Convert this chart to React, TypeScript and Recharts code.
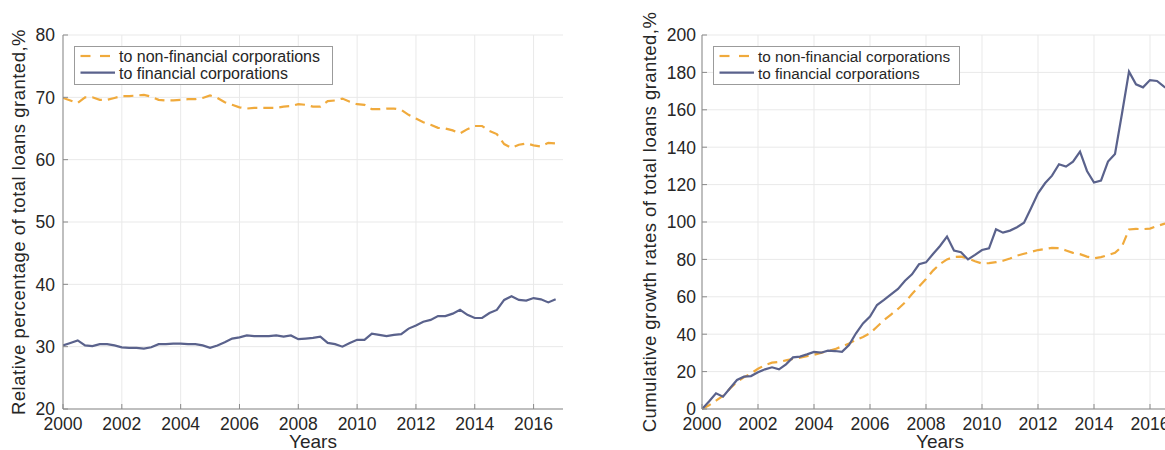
import React from "react";
import { LineChart, Line, XAxis, YAxis, CartesianGrid, Legend } from "recharts";

// quarterly observations, 2000Q1 .. 2016Q4
const quarters = [
  2000, 2000.25, 2000.5, 2000.75, 2001, 2001.25, 2001.5, 2001.75,
  2002, 2002.25, 2002.5, 2002.75, 2003, 2003.25, 2003.5, 2003.75,
  2004, 2004.25, 2004.5, 2004.75, 2005, 2005.25, 2005.5, 2005.75,
  2006, 2006.25, 2006.5, 2006.75, 2007, 2007.25, 2007.5, 2007.75,
  2008, 2008.25, 2008.5, 2008.75, 2009, 2009.25, 2009.5, 2009.75,
  2010, 2010.25, 2010.5, 2010.75, 2011, 2011.25, 2011.5, 2011.75,
  2012, 2012.25, 2012.5, 2012.75, 2013, 2013.25, 2013.5, 2013.75,
  2014, 2014.25, 2014.5, 2014.75, 2015, 2015.25, 2015.5, 2015.75,
  2016, 2016.25, 2016.5, 2016.75,
];

// relative share of total loans, %
const shareNonFin = [
  69.9, 69.5, 69.1, 70.0, 70.0, 69.6, 69.6, 69.9,
  70.2, 70.2, 70.3, 70.4, 70.1, 69.6, 69.5, 69.5,
  69.6, 69.7, 69.7, 69.9, 70.3, 69.9, 69.2, 68.8,
  68.4, 68.2, 68.3, 68.3, 68.3, 68.3, 68.5, 68.6,
  68.9, 68.8, 68.5, 68.5, 69.4, 69.5, 69.8, 69.3,
  68.9, 68.8, 68.1, 68.1, 68.2, 68.2, 68.0, 67.2,
  66.6, 66.0, 65.6, 65.1, 65.0, 64.7, 64.2, 64.9,
  65.4, 65.4, 64.6, 64.1, 62.5, 61.9, 62.4, 62.6,
  62.3, 62.1, 62.7, 62.6,
];
const shareFin = [
  30.2, 30.6, 31.0, 30.2, 30.1, 30.4, 30.4, 30.2,
  29.9, 29.8, 29.8, 29.7, 29.9, 30.4, 30.4, 30.5,
  30.5, 30.4, 30.4, 30.2, 29.8, 30.2, 30.7, 31.3,
  31.5, 31.8, 31.7, 31.7, 31.7, 31.8, 31.6, 31.8,
  31.2, 31.3, 31.4, 31.6, 30.6, 30.4, 30.0, 30.6,
  31.1, 31.1, 32.1, 31.9, 31.7, 31.9, 32.0, 32.9,
  33.4, 34.0, 34.3, 34.9, 34.9, 35.3, 35.9, 35.1,
  34.6, 34.6, 35.4, 35.9, 37.5, 38.1, 37.5, 37.4,
  37.8, 37.6, 37.1, 37.6,
];

// cumulative growth rates of total loans, %
const cumNonFin = [
  0, 2, 4.5, 7, 11, 14.5, 17, 19,
  21.5, 23.5, 24.8, 25.2, 26, 26.8, 27.5, 28.3,
  29, 30, 31, 32, 33.5, 35, 37, 38.5,
  40.5, 44, 47.5, 50.5, 53.5, 57, 61.5, 65.5,
  69.5, 74, 77.5, 80, 81.3, 81.5, 80.5, 79,
  77.8, 78, 78.5, 79.3, 80.5, 82, 83, 84,
  85, 85.5, 86.2, 86, 84.8, 83.5, 82.8, 81.5,
  80.6, 81.2, 82.3, 83.5, 87, 96, 96.3, 96.2,
  96.5, 97.8, 99, 100,
];
const cumFin = [
  0, 4, 8.4, 6.6, 11.1, 15.5, 17.3, 17.6,
  19.6, 21.2, 22.3, 21.2, 23.9, 27.6, 28.0, 29.2,
  30.5, 30.1, 31.2, 31.0, 30.6, 34.2, 40.5, 45.8,
  49.4, 55.6, 58.3, 61.3, 64.2, 68.6, 72.0, 77.4,
  78.4, 82.9, 87.2, 92.2, 84.7, 83.8, 80.0, 82.4,
  85.0, 85.9, 96.1, 94.3, 95.4, 97.2, 99.6, 107.3,
  115.3, 120.7, 124.8, 130.9, 129.6, 132.3, 137.6, 127.3,
  121.1, 122.1, 132.3, 136.4, 158, 180.4, 173.6, 172.0,
  175.9, 175.4, 172.4, 170,
];

const yearTicks = [2000, 2002, 2004, 2006, 2008, 2010, 2012, 2014, 2016];
const shareTicks = [20, 30, 40, 50, 60, 70, 80];
const cumTicks = [0, 20, 40, 60, 80, 100, 120, 140, 160, 180, 200];

const seriesNames = ["to non-financial corporations", "to financial corporations"];

const ORANGE = "#F0AA3C";
const NAVY = "#5A628C";
const AXIS = "#8a8a8a";
const GRID = "#e9e9e9";
const INK = "#262626";
const FONT = '"Liberation Sans", Arial, Helvetica, sans-serif';

const shareData = quarters.map((q, i) => ({ q, nonFin: shareNonFin[i], fin: shareFin[i] }));
const cumData = quarters.map((q, i) => ({ q, nonFin: cumNonFin[i], fin: cumFin[i] }));

function XTick(props: any) {
  const { x, y, payload } = props;
  return (
    <g>
      <line x1={x} x2={x} y1={y} y2={y - 5} stroke={AXIS} />
      <text x={x} y={y + 21} textAnchor="middle" fontSize={17.5} fill={INK} fontFamily={FONT}>
        {payload.value}
      </text>
    </g>
  );
}

function YTick(props: any) {
  const { x, y, payload, gap } = props;
  return (
    <g>
      <line x1={x} x2={x + 5} y1={y} y2={y} stroke={AXIS} />
      <text x={x - (gap ?? 8)} y={y + 6.3} textAnchor="end" fontSize={17.5} fill={INK} fontFamily={FONT}>
        {payload.value}
      </text>
    </g>
  );
}

function YTitle({ text, px, py, spacing }: { text: string; px: number; py: number; spacing: number }) {
  return (
    <text
      x={px}
      y={py}
      transform={`rotate(-90 ${px} ${py})`}
      textAnchor="middle"
      fontSize={18.5}
      letterSpacing={spacing}
      fill={INK}
      fontFamily={FONT}
    >
      {text}
    </text>
  );
}

function XTitle({ px, py }: { px: number; py: number }) {
  return (
    <text x={px} y={py} textAnchor="middle" fontSize={19} fill={INK} fontFamily={FONT}>
      Years
    </text>
  );
}

function LegendBox({ w, fontSize }: { w: number; fontSize: number }) {
  return (
    <svg width={w + 1} height={39} style={{ display: "block" }}>
      <rect x={0.5} y={0.5} width={w} height={38} fill="#fff" stroke="#9b9b9b" />
      <line x1={6.5} x2={16.5} y1={10} y2={10} stroke={ORANGE} strokeWidth={2.2} />
      <line x1={26} x2={36} y1={10} y2={10} stroke={ORANGE} strokeWidth={2.2} />
      <line x1={6.5} x2={41} y1={26.7} y2={26.7} stroke={NAVY} strokeWidth={2.2} />
      <text x={45} y={15.8} fontSize={fontSize} fill={INK} fontFamily={FONT}>
        {seriesNames[0]}
      </text>
      <text x={45} y={32.5} fontSize={fontSize} fill={INK} fontFamily={FONT}>
        {seriesNames[1]}
      </text>
    </svg>
  );
}

function Panel({
  data,
  width,
  yWidth,
  right,
  yDomain,
  yTicks,
  yTitle,
  titleX,
  spacing,
  legendLeft,
  legendW,
  legendFont,
  tickGap,
}: any) {
  const plotCenter = yWidth + (width - right - yWidth) / 2;
  return (
    <LineChart width={width} height={450} data={data} margin={{ top: 35, right, bottom: 0, left: 0 }}>
      <CartesianGrid stroke={GRID} strokeWidth={1} syncWithTicks />
      <XAxis
        dataKey="q"
        type="number"
        domain={[2000, 2017]}
        ticks={yearTicks}
        allowDataOverflow
        height={41}
        stroke={AXIS}
        tickLine={false}
        tickSize={0}
        tickMargin={0}
        tick={<XTick />}
        label={<XTitle px={plotCenter} py={448} />}
      />
      <YAxis
        type="number"
        domain={yDomain}
        ticks={yTicks}
        width={yWidth}
        stroke={AXIS}
        tickLine={false}
        tickSize={0}
        tickMargin={0}
        tick={<YTick gap={tickGap} />}
        label={<YTitle text={yTitle} px={titleX} py={222} spacing={spacing} />}
      />
      <Legend
        layout="vertical"
        align="center"
        verticalAlign="middle"
        wrapperStyle={{ left: legendLeft, top: 46, width: legendW + 1, height: 39 }}
        content={() => <LegendBox w={legendW} fontSize={legendFont} />}
      />
      <Line
        dataKey="nonFin"
        name={seriesNames[0]}
        type="linear"
        stroke={ORANGE}
        strokeWidth={2.2}
        strokeDasharray="10 6"
        dot={false}
        isAnimationActive={false}
      />
      <Line
        dataKey="fin"
        name={seriesNames[1]}
        type="linear"
        stroke={NAVY}
        strokeWidth={2.2}
        dot={false}
        isAnimationActive={false}
      />
    </LineChart>
  );
}

export default function App() {
  return (
    <div
      style={{
        position: "absolute",
        left: 0,
        top: 0,
        width: 1165,
        height: 450,
        overflow: "hidden",
        background: "#fff",
        fontFamily: FONT,
      }}
    >
      <div style={{ position: "absolute", left: 0, top: 0 }}>
        <Panel
          data={shareData}
          width={580}
          yWidth={63}
          right={17}
          yDomain={[20, 80]}
          yTicks={shareTicks}
          yTitle="Relative percentage of total loans granted,%"
          titleX={25}
          spacing={0.5}
          legendLeft={74}
          legendW={258}
          legendFont={16}
          tickGap={8}
        />
      </div>
      <div style={{ position: "absolute", left: 585, top: 0 }}>
        <Panel
          data={cumData}
          width={600}
          yWidth={117}
          right={7}
          yDomain={[0, 200]}
          yTicks={cumTicks}
          yTitle="Cumulative growth rates of total loans granted,%"
          titleX={71}
          spacing={0.45}
          legendLeft={128}
          legendW={246}
          legendFont={15.3}
          tickGap={6}
        />
      </div>
    </div>
  );
}
